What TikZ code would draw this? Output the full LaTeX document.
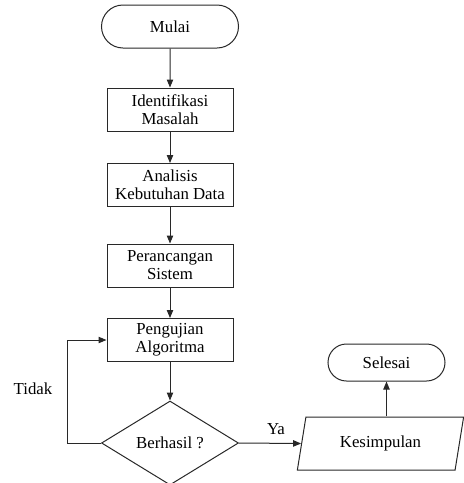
\documentclass[tikz,border=0pt]{standalone}
\usepackage{fontspec}
\setmainfont{Liberation Serif}
\usepackage{tikz}
\usetikzlibrary{arrows.meta, positioning, shapes.geometric, shapes.misc}
\definecolor{FlowLine}{RGB}{40, 40, 40}

\tikzset{
  terminal/.style={draw=FlowLine, rounded rectangle, inner sep=0pt, align=center},
  process/.style={draw=FlowLine, rectangle, inner sep=0pt, align=center,
    minimum width=63pt, minimum height=21.5pt},
  decision/.style={draw=FlowLine, diamond, inner sep=0pt, aspect=1.63,
    minimum width=68.5pt, minimum height=42pt},
  iobox/.style={draw=FlowLine, trapezium, trapezium left angle=73,
    trapezium right angle=107, trapezium stretches=true, inner sep=0pt,
    minimum width=83.5pt, minimum height=26.5pt},
  flow/.style={draw=FlowLine, line width=0.5pt, -{Triangle[length=4pt,width=3.2pt]}}
}

\begin{document}
\begin{tikzpicture}[x=0.5pt, y=-0.5pt, line width=0.5pt,
    font=\fontsize{8.4}{9}\selectfont]
  \useasboundingbox (0,0) rectangle (464,483);

  \node[terminal, minimum width=68.5pt, minimum height=21.5pt] (mulai) at (170,26.5) {Mulai};
  \node[process] (identifikasi) at (170,109.5) {Identifikasi\\Masalah};
  \node[process] (analisis) at (170,185) {Analisis\\Kebutuhan Data};
  \node[process] (perancangan) at (170,265.5) {Perancangan\\Sistem};
  \node[process] (pengujian) at (170,340) {Pengujian\\Algoritma};
  \node[decision] (berhasil) at (170,443) {Berhasil ?};
  \node[iobox] (kesimpulan) at (380.5,443.5) {Kesimpulan};
  \node[terminal, minimum width=58.5pt, minimum height=18.5pt] (selesai) at (386.5,362.5) {Selesai};

  \coordinate (loopbottom) at (67,443);
  \coordinate (looptop) at (67,340);

  \draw[flow] (mulai) -- (identifikasi);
  \draw[flow] (identifikasi) -- (analisis);
  \draw[flow] (analisis) -- (perancangan);
  \draw[flow] (perancangan) -- (pengujian);
  \draw[flow] (pengujian) -- (berhasil);
  \draw[flow] (berhasil.west) -- (loopbottom) -- (looptop) -- (pengujian.west);
  \draw[flow] (berhasil.east) -- (kesimpulan.west);
  \draw[flow] (kesimpulan.north -| selesai) -- (selesai.south);

  \node (tidak) at (33,389) {Tidak};
  \node (ya) at (276,429) {Ya};
\end{tikzpicture}
\end{document}
